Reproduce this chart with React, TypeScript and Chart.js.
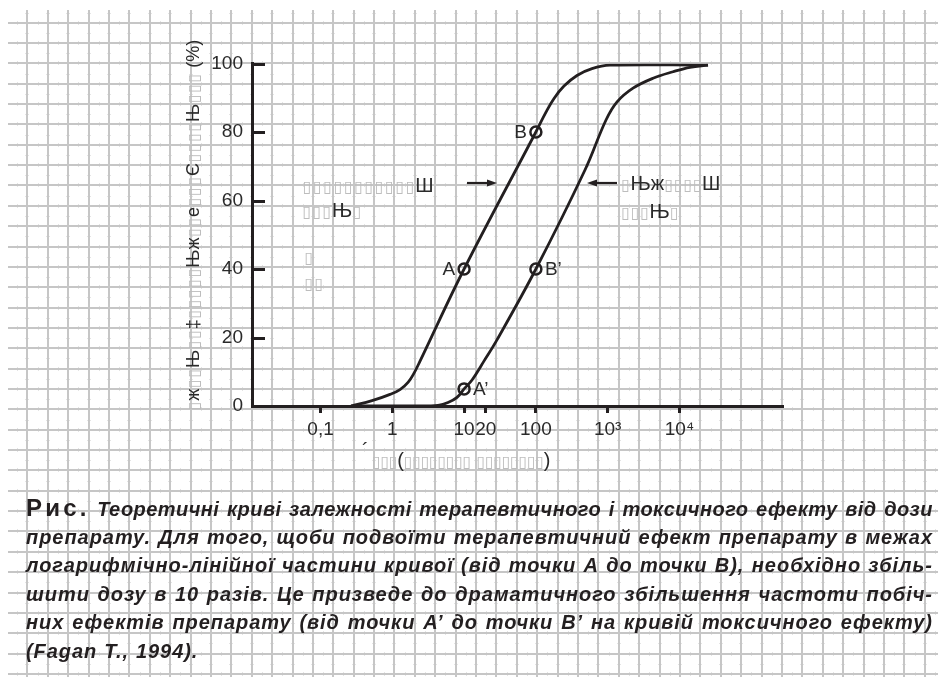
import React, { useEffect, useRef } from "react";
import { Chart, registerables } from "chart.js";

Chart.register(...registerables);

// ---------------- data ----------------
const yTickValues = [0, 20, 40, 60, 80, 100];
const xTickValues = [0.1, 1, 10, 20, 100, 1000, 10000];
const xTickLabels = ["0,1", "1", "10", "20", "100", "10³", "10⁴"];
const xMin = 0.0111;
const xMax = 277000;

// therapeutic effect curve (left)
const therapeuticDose = [0.266, 0.522, 0.93, 1.28, 1.655, 2.007, 2.433, 10, 100, 138.3, 178.9, 246.4, 373.9, 604.8, 1077, 25000];
const therapeuticEffect = [0, 1.55, 3.4, 4.8, 6.9, 9.6, 13.1, 40, 80, 85.8, 89.8, 93.4, 96.5, 98.5, 99.5, 99.5];

// toxic effect curve (right)
const toxicDose = [0.266, 2.43, 4.33, 5.97, 7.97, 10, 12.9, 18.9, 28.7, 100, 483, 948, 1352, 2256, 4285, 8137, 14030, 25000];
const toxicEffect = [0, 0, 0.2, 1.0, 2.5, 5, 7.6, 13.1, 19.3, 40, 68.9, 83.5, 88.8, 92.8, 95.7, 97.6, 98.9, 99.5];

// marked points
const markerNames = ["A", "B", "A’", "B’"];
const markerDose = [10, 100, 10, 100];
const markerEffect = [40, 80, 5, 40];
const markerLabelSide = ["left", "left", "right", "right"];

// text (as printed, with missing glyphs shown as boxes)
const yTitle = "▯ж▯▯Њ▯▯‡▯▯▯▯▯Њж▯▯е▯▯▯Є▯▯▯▯Њ▯▯▯ (%)";
const xTitle = "▯▯▯(▯▯▯▯▯▯▯▯ ▯▯▯▯▯▯▯▯)";
const leftLabel = ["▯▯▯▯▯▯▯▯▯▯▯Ш", "▯▯▯Њ▯"];
const leftExtra = ["▯", "▯▯"];
const rightLabel = ["▯Њж▯▯▯▯Ш", "▯▯▯Њ▯"];
const captionLead = "Рис.";
const captionLines = [
  "Теоретичні криві залежності терапевтичного і токсичного ефекту від дози",
  "препарату. Для того, щоби подвоїти терапевтичний ефект препарату в межах",
  "логарифмічно-лінійної частини кривої (від точки А до точки В), необхідно збіль-",
  "шити дозу в 10 разів. Це призведе до драматичного збільшення частоти побіч-",
  "них ефектів препарату (від точки А’ до точки В’ на кривій токсичного ефекту)",
  "(Fagan T., 1994).",
];

// ---------------- styles ----------------
const INK = "#231f20";
const TEXT = "#2a2a2a";
const FONT = "'Liberation Sans', Arial, Helvetica, sans-serif";
const W = 938;
const H = 677;

const paperPlugin = {
  id: "paper",
  beforeDraw(chart: any) {
    const ctx = chart.ctx;
    ctx.save();
    ctx.fillStyle = "#ffffff";
    ctx.fillRect(0, 0, W, H);
    const sx = 20.4;
    const sy = 20.35;
    const x0 = 27.3;
    const y0 = 22.7;
    // faint minor marks
    ctx.strokeStyle = "#e4e4e4";
    ctx.lineWidth = 1;
    for (let x = x0; x < W + 1; x += sx) {
      for (let y = y0 - sy / 2; y < H; y += sy) {
        if (y < 10) continue;
        ctx.beginPath();
        ctx.moveTo(Math.round(x) - 2, Math.round(y) + 0.5);
        ctx.lineTo(Math.round(x) + 2, Math.round(y) + 0.5);
        ctx.stroke();
      }
    }
    for (let y = y0; y < H + 1; y += sy) {
      for (let x = x0 - sx / 2; x < W; x += sx) {
        if (x < 8) continue;
        ctx.beginPath();
        ctx.moveTo(Math.round(x) + 0.5, Math.round(y) - 2);
        ctx.lineTo(Math.round(x) + 0.5, Math.round(y) + 2);
        ctx.stroke();
      }
    }
    // main lines
    ctx.strokeStyle = "#c6c6c6";
    ctx.lineWidth = 2;
    for (let x = x0; x < W + 1; x += sx) {
      ctx.beginPath();
      ctx.moveTo(Math.round(x), 10);
      ctx.lineTo(Math.round(x), H);
      ctx.stroke();
    }
    for (let y = y0; y < H + 1; y += sy) {
      ctx.beginPath();
      ctx.moveTo(8, Math.round(y));
      ctx.lineTo(W, Math.round(y));
      ctx.stroke();
    }
    ctx.restore();
  },
};

const decorPlugin = {
  id: "decor",
  afterDraw(chart: any) {
    const { ctx, chartArea } = chart;
    const xs = chart.scales.x;
    const ys = chart.scales.y;
    ctx.save();
    // inward ticks on the y axis
    ctx.strokeStyle = INK;
    ctx.lineWidth = 3;
    yTickValues.forEach((v) => {
      if (v === 0) return;
      const py = Math.round(ys.getPixelForValue(v)) + 0.5;
      ctx.beginPath();
      ctx.moveTo(chartArea.left, py);
      ctx.lineTo(chartArea.left + 13, py);
      ctx.stroke();
    });
    // point labels
    ctx.font = `19px ${FONT}`;
    ctx.fillStyle = TEXT;
    ctx.textBaseline = "middle";
    markerNames.forEach((n, i) => {
      const px = xs.getPixelForValue(markerDose[i]);
      const py = ys.getPixelForValue(markerEffect[i]);
      const left = markerLabelSide[i] === "left";
      ctx.textAlign = left ? "right" : "left";
      ctx.fillText(n, left ? px - 9 : px + 9, py + 1);
    });
    // arrows
    const arrow = (x1: number, x2: number, y: number) => {
      const dir = Math.sign(x2 - x1);
      ctx.strokeStyle = INK;
      ctx.fillStyle = INK;
      ctx.lineWidth = 2.2;
      ctx.beginPath();
      ctx.moveTo(x1, y);
      ctx.lineTo(x2 - dir * 6, y);
      ctx.stroke();
      ctx.beginPath();
      ctx.moveTo(x2, y);
      ctx.lineTo(x2 - dir * 10, y - 3.5);
      ctx.lineTo(x2 - dir * 10, y + 3.5);
      ctx.closePath();
      ctx.fill();
    };
    arrow(467, 497, 183);
    arrow(617, 587, 183);
    ctx.restore();
  },
};

function Garbled({ text, style, box = 10, size = 20 }: { text: string; style: any; box?: number; size?: number }) {
  return (
    <div
      style={{
        position: "absolute",
        whiteSpace: "pre",
        fontFamily: FONT,
        fontSize: size,
        lineHeight: "20px",
        color: TEXT,
        ...style,
      }}
    >
      {Array.from(text).map((ch, i) =>
        ch === "▯" ? (
          <span
            key={i}
            style={{
              display: "inline-block",
              width: box,
              textAlign: "center",
              fontFamily: "'DejaVu Sans'",
              fontSize: 16,
              color: "#bdbdbd",
            }}
          >
            {ch}
          </span>
        ) : (
          <span key={i}>{ch}</span>
        )
      )}
    </div>
  );
}

export default function App() {
  const ref = useRef<HTMLCanvasElement | null>(null);

  useEffect(() => {
    if (!ref.current) return;
    const tickFont = { family: FONT, size: 19 };
    const curveStyle = {
      showLine: true,
      borderColor: INK,
      borderWidth: 2.8,
      pointRadius: 0,
      tension: 0.38,
      fill: false,
    };
    const chart = new Chart(ref.current, {
      type: "scatter",
      data: {
        datasets: [
          {
            data: markerDose.map((d, i) => ({ x: d, y: markerEffect[i] })),
            showLine: false,
            pointRadius: 5.5,
            pointBorderWidth: 2.5,
            pointBorderColor: INK,
            pointBackgroundColor: "rgba(0,0,0,0)",
          },
          {
            ...curveStyle,
            data: therapeuticDose.map((d, i) => ({ x: d, y: therapeuticEffect[i] })),
          },
          {
            ...curveStyle,
            data: toxicDose.map((d, i) => ({ x: d, y: toxicEffect[i] })),
          },
        ],
      },
      options: {
        animation: false,
        responsive: false,
        devicePixelRatio: 1,
        layout: { padding: { left: 0, top: 63.5, right: W - 783, bottom: 0 } },
        plugins: { legend: { display: false }, tooltip: { enabled: false } },
        scales: {
          x: {
            type: "logarithmic",
            min: xMin,
            max: xMax,
            afterBuildTicks: (s: any) => {
              s.ticks = xTickValues.map((v) => ({ value: v }));
            },
            afterFit: (s: any) => {
              s.height = H - 406;
            },
            ticks: {
              autoSkip: false,
              maxRotation: 0,
              font: tickFont,
              color: TEXT,
              padding: 5,
              callback: (_v: any, i: number) => xTickLabels[i],
            },
            grid: {
              display: true,
              drawOnChartArea: false,
              drawTicks: true,
              tickLength: 7,
              tickWidth: 3,
              tickColor: INK,
              color: INK,
            },
            border: { display: true, color: INK, width: 3 },
          },
          y: {
            type: "linear",
            min: 0,
            max: 100,
            afterBuildTicks: (s: any) => {
              s.ticks = yTickValues.map((v) => ({ value: v }));
            },
            afterFit: (s: any) => {
              s.width = 252;
            },
            ticks: { font: tickFont, color: TEXT, padding: 9 },
            grid: { display: false, drawTicks: false },
            border: { display: true, color: INK, width: 3 },
          },
        },
      } as any,
      plugins: [paperPlugin, decorPlugin],
    });
    return () => chart.destroy();
  }, []);

  const words = (line: string) => line.split(" ");

  return (
    <div style={{ position: "absolute", left: 0, top: 0, width: W, height: H, overflow: "hidden", background: "#fff" }}>
      <canvas ref={ref} width={W} height={H} style={{ position: "absolute", left: 0, top: 0, width: W, height: H }} />
      {/* y-axis title, rotated */}
      <Garbled
        text={yTitle}
        box={10.3}
        size={18}
        style={{ left: 183, top: 411, transformOrigin: "left top", transform: "rotate(-90deg)" }}
      />
      {/* x-axis title */}
      <Garbled text={"´"} style={{ left: 362, top: 440 }} />
      <Garbled text={xTitle} box={8.4} style={{ left: 372, top: 450 }} />
      {/* curve labels */}
      <Garbled text={leftLabel[0]} box={10.3} style={{ left: 302, top: 175 }} />
      <Garbled text={leftLabel[1]} box={10} style={{ left: 302, top: 200 }} />
      <Garbled text={leftExtra[0]} style={{ left: 304, top: 246 }} />
      <Garbled text={leftExtra[1]} style={{ left: 304, top: 272 }} />
      <Garbled text={rightLabel[0]} box={9.5} style={{ left: 621, top: 173 }} />
      <Garbled text={rightLabel[1]} box={9.5} style={{ left: 621, top: 201 }} />
      {/* caption */}
      <div
        style={{
          position: "absolute",
          left: 26,
          top: 494,
          width: 907,
          fontFamily: FONT,
          fontStyle: "italic",
          fontWeight: "bold",
          fontSize: 20,
          lineHeight: "28.6px",
          color: INK,
          whiteSpace: "pre",
        }}
      >
        {captionLines.map((line, i) => {
          const last = i === captionLines.length - 1;
          const items = words(line);
          return (
            <div
              key={i}
              style={{
                display: "flex",
                justifyContent: last ? "flex-start" : "space-between",
                columnGap: last ? "0.35em" : "4px",
                height: 28.6,
                alignItems: "baseline",
                letterSpacing: i === 0 ? "0.45px" : "0.95px",
              }}
            >
              {i === 0 && (
                <span style={{ fontStyle: "normal", fontWeight: 900, fontSize: 24, letterSpacing: "3.2px" }}>
                  {captionLead}
                </span>
              )}
              {items.map((w, j) => (
                <span key={j}>{w}</span>
              ))}
            </div>
          );
        })}
      </div>
    </div>
  );
}
